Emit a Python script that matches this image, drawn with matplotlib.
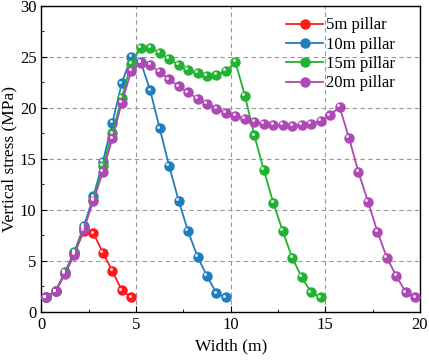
import matplotlib.pyplot as plt
import matplotlib.transforms as mtransforms
from matplotlib.ticker import MultipleLocator

plt.rcParams['font.family'] = ['Liberation Serif', 'DejaVu Serif']
plt.rcParams['mathtext.fontset'] = 'stix'

# 数据
y_5m = [1.4, 2.0, 3.8, 5.8, 7.9, 7.7, 5.8, 4.0, 2.1, 1.4]
y_10m = [1.4, 2.0, 3.9, 5.9, 8.4, 11.3, 14.7, 18.5, 22.4, 25.0,
         24.5, 21.7, 18.0, 14.3, 10.9, 7.9, 5.4, 3.5, 1.8, 1.4]
y_15m = [1.4, 2.0, 3.8, 5.8, 8.2, 11.0, 14.3, 17.5, 21.0, 24.3,
         25.9, 25.9, 25.4, 24.8, 24.2, 23.7, 23.4, 23.1, 23.2, 23.6,
         24.5, 21.2, 17.3, 13.9, 10.7, 7.9, 5.3, 3.4, 1.9, 1.4]
y_20m = [1.4, 2.0, 3.7, 5.6, 8.1, 10.9, 13.7, 17.0, 20.5, 23.6,
         24.4, 24.2, 23.5, 22.8, 22.1, 21.5, 20.9, 20.4, 19.9, 19.5,
         19.2, 18.9, 18.6, 18.4, 18.3, 18.3, 18.25, 18.3, 18.4, 18.7,
         19.25, 20.1, 17.05, 13.7, 10.8, 7.85, 5.3, 3.5, 1.9, 1.4]
labels = ['5m pillar', '10m pillar', '15m pillar', '20m pillar']
colors = ['#FF1A1A', '#1F7DC0', '#22B232', '#AE48B4']
series = [y_5m, y_10m, y_15m, y_20m]

fig = plt.figure(figsize=(4.29, 3.63), dpi=100)
ax = fig.add_axes([0.0963, 0.1413, 0.8827, 0.8427])

hl = mtransforms.offset_copy(ax.transData, fig=fig, x=-1.2, y=1.2, units='points')
for ys, lab, c in zip(series, labels, colors):
    xs = [0.25 + 0.5 * i for i in range(len(ys))]
    ax.plot(xs, ys, '-o', color=c, lw=1.3, ms=6.5, mec=c, label=lab, zorder=3)
    # 球形高光
    ax.plot(xs, ys, 'o', color='white', ms=2.2, mec='none', alpha=0.8,
            transform=hl, zorder=4)

ax.set_xlim(0, 20)
ax.set_ylim(0, 30)
ax.xaxis.set_major_locator(MultipleLocator(5))
ax.xaxis.set_minor_locator(MultipleLocator(2.5))
ax.yaxis.set_major_locator(MultipleLocator(5))
ax.yaxis.set_minor_locator(MultipleLocator(2.5))
ax.tick_params(which='both', direction='in', labelsize=12)
ax.tick_params(which='major', length=4)
ax.tick_params(which='minor', length=2.5)
ax.grid(True, ls=(0, (4, 3)), color='#999999', lw=0.8)
for s in ax.spines.values():
    s.set_linewidth(1.0)

ax.set_xlabel('Width (m)', fontsize=12.5)
ax.set_ylabel('Vertical stress (MPa)', fontsize=12.5, labelpad=2)
ax.legend(loc='upper right', bbox_to_anchor=(0.966, 1.0), frameon=False,
          fontsize=12, handlelength=2.2, handletextpad=0.2,
          labelspacing=0.2, borderaxespad=0.3)

fig.savefig('out.png', dpi=100)
